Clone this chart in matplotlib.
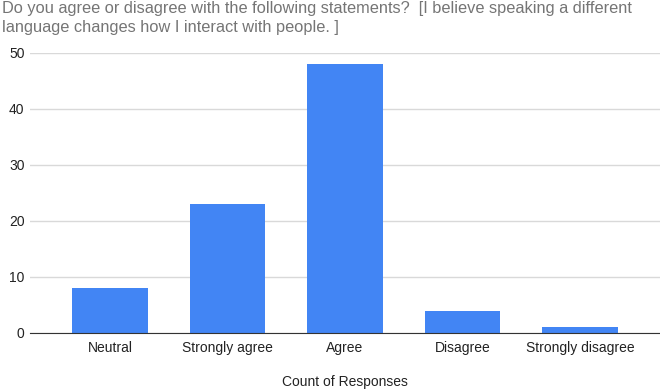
import matplotlib
matplotlib.use("Agg")
import matplotlib.pyplot as plt

categories = ["Neutral", "Strongly agree", "Agree", "Disagree", "Strongly disagree"]
counts = [8, 23, 48, 4, 1]
yticks = [0, 10, 20, 30, 40, 50]

plt.rcParams['font.family'] = ['Liberation Sans', 'DejaVu Sans']

fig = plt.figure(figsize=(6.6, 3.92), dpi=100)
ax = fig.add_axes([30/660, 59/392, 630/660, (333-53)/392])

x = range(len(categories))
ax.bar(x, counts, width=0.64, color="#4285F4", zorder=3)
ax.set_xlim(-0.68, 4.68)
ax.set_ylim(0, 50)
ax.set_yticks(yticks)
ax.set_yticklabels([str(v) for v in yticks], fontsize=10, color="#222222")
ax.set_xticks(list(x))
ax.set_xticklabels(categories, fontsize=10, color="#222222")
ax.tick_params(axis="both", length=0)
ax.tick_params(axis="y", pad=4)
ax.tick_params(axis="x", pad=6)
ax.grid(axis="y", color="#d9d9d9", linewidth=1, zorder=0)
for s in ["top", "right", "left"]:
    ax.spines[s].set_visible(False)
ax.spines["bottom"].set_color("#333333")
ax.spines["bottom"].set_zorder(4)
ax.set_xlabel("Count of Responses", fontsize=10, color="#222222", labelpad=14)

fig.text(2/660, 1 - 1/392,
         "Do you agree or disagree with the following statements?  [I believe speaking a different\nlanguage changes how I interact with people. ]",
         fontsize=11.8, color="#757575", ha="left", va="top", linespacing=1.3)

fig.savefig("out.png", dpi=100)
